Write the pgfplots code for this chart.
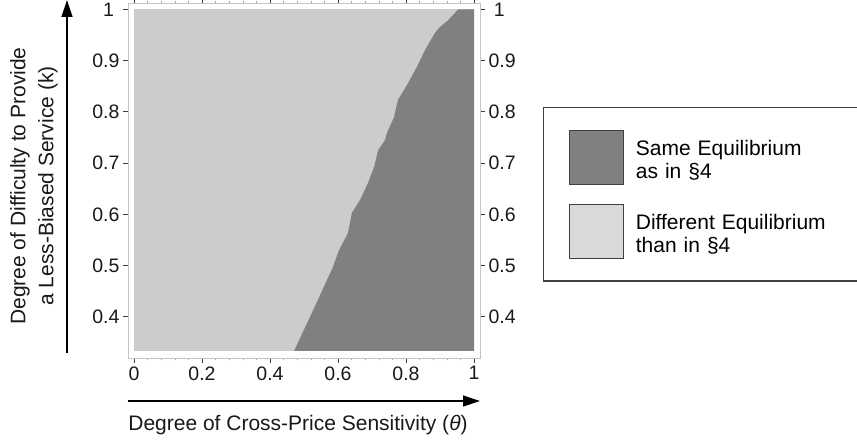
\documentclass[border=0pt]{standalone}
\usepackage{pgfplots}
\pgfplotsset{compat=1.18}
\usepackage{fontspec}
\setmainfont{Liberation Sans}
\usetikzlibrary{arrows.meta}
\definecolor{lightreg}{HTML}{CCCCCC}
\definecolor{darkreg}{HTML}{808080}
\definecolor{lightsw}{HTML}{D9D9D9}
\definecolor{framegray}{HTML}{C4C4C4}
\definecolor{edge}{HTML}{404040}
\begin{document}
\begin{tikzpicture}[x=1pt,y=1pt]
\useasboundingbox (-128,-87) rectangle (729,358);
\pgfplotsset{
  mybase/.style={
    at={(0,0)}, anchor=south west,
    scale only axis, width=352pt, height=355pt,
    xmin=-0.0176, xmax=1.0176, ymin=0.3193, ymax=1.0127,
    xtick={0,0.2,0.4,0.6,0.8,1},
    ytick={0.4,0.5,0.6,0.7,0.8,0.9,1},
    minor x tick num=4,
    tick align=outside,
    major tick length=5pt, minor tick length=2pt,
    axis line style={framegray, line width=0.8pt},
    major tick style={black!75, line width=0.9pt},
    minor tick style={black!35, line width=0.5pt},
    tick label style={font=\fontsize{19.5}{22}\selectfont, text=black!90},
    /pgf/number format/assume math mode=true,
    xticklabels={0,0.2,0.4,0.6,0.8,1},
  }
}
\begin{axis}[mybase,
  yticklabels={0.4,0.5,0.6,0.7,0.8,0.9,1\hphantom{.}},
  legend cell align=left,
  legend style={at={(1.1790,0.7070)}, anchor=north west,
    draw=edge, line width=1.3pt, fill=white,
    inner xsep=25pt, inner ysep=22pt,
    row sep=19pt, column sep=12pt,
    font=\fontsize{21}{23}\selectfont,
    nodes={inner sep=0pt, text width=220pt},
    cells={align=left}},
]
% light region (whole domain)
\addplot[fill=lightreg, draw=none, forget plot] coordinates {
 (0,0.3333) (1,0.3333) (1,1) (0,1)
};
% dark region (same equilibrium)
\addplot[fill=darkreg, draw=none, forget plot] coordinates {
 (0.471,0.3333) (0.541,0.433) (0.585,0.497) (0.603,0.530) (0.629,0.563)
 (0.641,0.603) (0.665,0.628) (0.688,0.661) (0.706,0.692) (0.718,0.725)
 (0.738,0.745) (0.744,0.759) (0.765,0.790) (0.776,0.823) (0.806,0.856)
 (0.832,0.888) (0.856,0.921) (0.885,0.954) (0.900,0.966) (0.924,0.979)
 (0.953,1.0) (1,1) (1,0.3333)
};
\addlegendimage{legend image code/.code={\draw[fill=darkreg, draw=edge, line width=1.2pt] (0pt,-36pt) rectangle (54pt,18pt);}}
\addlegendentry{Same Equilibrium\\as in \S4}
\addlegendimage{legend image code/.code={\draw[fill=lightsw, draw=edge, line width=1.2pt] (0pt,-36pt) rectangle (54pt,18pt);}}
\addlegendentry{Different Equilibrium\\than in \S4}
\end{axis}
\begin{axis}[mybase,
  yticklabel pos=right,
  xticklabels={},
  yticklabels={0.4,0.5,0.6,0.7,0.8,0.9,\hphantom{.}1},
]
\end{axis}
\draw[line width=1.3pt, -{Triangle[length=17pt,width=11pt]}] (-61,5) -- (-61,358);
\draw[line width=1.3pt, -{Triangle[length=17pt,width=11pt]}] (0,-43) -- (352,-43);
\node[font=\fontsize{21}{24}\selectfont, text=black!90] at (170,-67) {Degree of Cross-Price Sensitivity (\textit{θ})};
\node[rotate=90, align=center, font=\fontsize{21}{28}\selectfont, text=black!90] at (-94,172) {Degree of Difficulty to Provide\\a Less-Biased Service (k)};
\end{tikzpicture}
\end{document}
